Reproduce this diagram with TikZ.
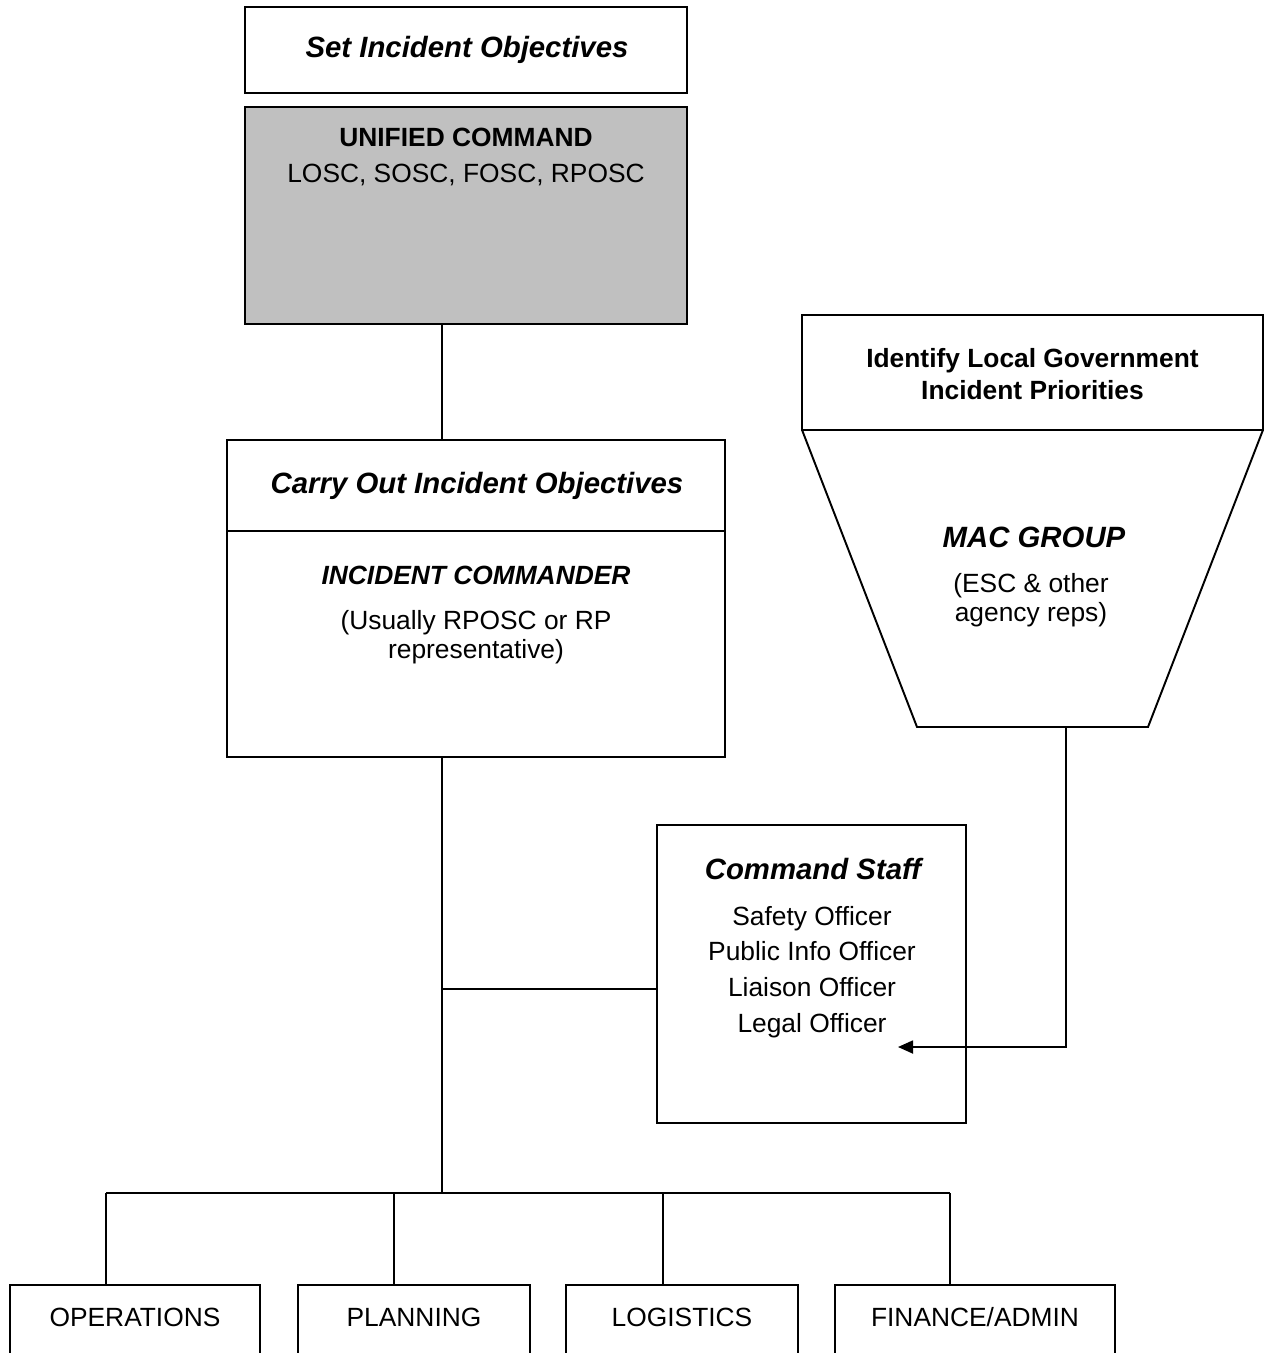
\documentclass[tikz,border=0pt]{standalone}
\usepackage{fontspec}
\setmainfont{Liberation Sans}
\usetikzlibrary{arrows.meta,positioning,calc}
\definecolor{ucgray}{RGB}{192,192,192}

\begin{document}
\begin{tikzpicture}[x=0.02cm, y=-0.02cm,
    box/.style={draw, line width=1.1pt, inner sep=0pt, outer sep=0pt},
    lab/.style={align=center, inner sep=0pt, font=\fontsize{15}{18}\selectfont},
    head/.style={lab, font=\fontsize{15}{18}\selectfont\bfseries\itshape},
    title/.style={lab, font=\fontsize{16.7}{20}\selectfont\bfseries\itshape},
    dept/.style={box, anchor=north, inner ysep=0pt, text height=23.6pt, text depth=2cm,
                 font=\fontsize{15}{18}\selectfont},
    link/.style={line width=1pt},
    arr/.style={link, -{Triangle[length=0.3cm, width=0.26cm]}}
  ]
  \useasboundingbox (0,0) rectangle (1266,1353);
  \clip (0,0) rectangle (1266,1353);

  % top: objectives and unified command
  \node[box, minimum width=8.84cm, minimum height=1.72cm] (setobj) at (466,50) {};
  \node[title] (setobjname) at (467,50) {Set Incident Objectives};
  \node[box, fill=ucgray, minimum width=8.84cm, minimum height=4.34cm] (unified) at (466,215.5) {};
  \node[lab, font=\fontsize{15}{20.4}\selectfont] (ucname) at (466,157)
    {\textbf{UNIFIED COMMAND}\\LOSC, SOSC, FOSC, RPOSC};

  % incident commander
  \node[box, minimum width=9.96cm, minimum height=1.82cm] (carryhead) at (476,485.5) {};
  \node[title] (carryname) at (477,486) {Carry Out Incident Objectives};
  \node[box, minimum width=9.96cm, minimum height=4.52cm] (carrybody) at (476,644) {};
  \node[head] (icname) at (476,575) {INCIDENT COMMANDER};
  \node[lab, font=\fontsize{15}{16.5}\selectfont] (icnote) at (476,637)
    {(Usually RPOSC or RP\\representative)};

  % local government priorities and MAC group
  \node[box, minimum width=9.22cm, minimum height=2.3cm] (ident) at (1032.5,372.5) {};
  \node[lab, font=\fontsize{15}{18.1}\selectfont\bfseries] (identname) at (1032.5,374)
    {Identify Local Government\\Incident Priorities};
  \coordinate (macbl) at (917,727);
  \coordinate (macbr) at (1148,727);
  \draw[line width=1.1pt, line join=miter] (ident.south west) -- (macbl) -- (macbr) -- (ident.south east);
  \node[title] (macname) at (1034,537) {MAC GROUP};
  \node[lab, font=\fontsize{15}{16.5}\selectfont] (macnote) at (1031,600)
    {(ESC \& other\\agency reps)};

  % command staff
  \node[box, minimum width=6.18cm, minimum height=5.96cm] (cstaff) at (811.5,974) {};
  \node[title] (csname) at (813,869) {Command Staff};
  \node[lab, font=\fontsize{15}{20.4}\selectfont] (cslist) at (812,972)
    {Safety Officer\\Public Info Officer\\Liaison Officer\\Legal Officer};

  % sections
  \node[dept, minimum width=5cm] (ops) at (135,1285) {OPERATIONS};
  \node[dept, minimum width=4.64cm] (plan) at (414,1285) {PLANNING};
  \node[dept, minimum width=4.64cm] (logi) at (682,1285) {LOGISTICS};
  \node[dept, minimum width=5.6cm] (fin) at (975,1285) {FINANCE/ADMIN};

  % connectors
  \coordinate (trunk) at (442,0);
  \coordinate (barl) at (106,1193);
  \coordinate (barr) at (950,1193);
  \coordinate (jstaff) at (442,989);
  \draw[link] (unified.south -| trunk) -- (carryhead.north -| trunk);
  \draw[link] (carrybody.south -| trunk) -- (trunk |- barl);
  \draw[link] (barl) -- (barr);
  \foreach \n/\d in {ops/106, plan/394, logi/663, fin/950} {
    \coordinate (drop-\n) at (\d,1193);
    \draw[link] (drop-\n) -- (drop-\n |- \n.north);
  }
  \draw[link] (jstaff) -- (jstaff -| cstaff.west);
  \coordinate (macbot) at (1066,727);
  \coordinate (legaltip) at (898,1047);
  \draw[arr] (macbot) -- (macbot |- legaltip) -- (legaltip);
\end{tikzpicture}
\end{document}
